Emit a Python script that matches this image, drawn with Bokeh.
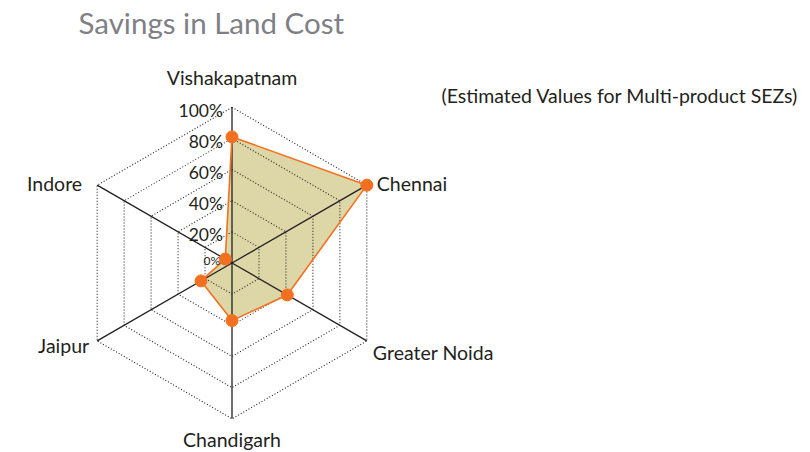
import numpy as np
from bokeh.plotting import figure
from bokeh.models import Label
from bokeh.core.properties import value
from bokeh.embed import file_html
from bokeh.resources import INLINE

# ---- data ----
cities = ["Vishakapatnam", "Chennai", "Greater Noida", "Chandigarh", "Jaipur", "Indore"]
savings = [81, 100, 41, 37, 23, 5]
tick_values = [0, 20, 40, 60, 80, 100]
tick_labels = ["0%", "20%", "40%", "60%", "80%", "100%"]
title_text = "Savings in Land Cost"
subtitle_text = "(Estimated Values for Multi-product SEZs)"

# ---- layout ----
W, H = 808, 450
S = 155.7              # pixels per 100%
cx, cy = 231.5, 262.5  # centre in canvas px (from left, from top)
FONT = "Lato"
DARK = "#231f20"

n = len(cities)
angles = np.pi / 2 - np.arange(n) * 2 * np.pi / n

p = figure(width=W, height=H, output_backend="svg", toolbar_location=None,
           x_range=(-cx / S, (W - cx) / S), y_range=(-(H - cy) / S, cy / S),
           min_border=0, outline_line_color=None)
p.axis.visible = False
p.grid.visible = False
p.background_fill_color = "white"
p.border_fill_color = "white"

# data polygon
r = np.array(savings) / 100.0
px = r * np.cos(angles)
py = r * np.sin(angles)
p.patch(list(px), list(py), fill_color="#ddd7a7", line_color=None)

# grid rings
for tv in tick_values[1:]:
    rr = tv / 100.0
    gx = list(rr * np.cos(angles)) + [rr * np.cos(angles[0])]
    gy = list(rr * np.sin(angles)) + [rr * np.sin(angles[0])]
    p.line(gx, gy, line_color="#222222", line_width=1.1, line_dash="1 2")

# spokes
for a in angles:
    p.line([0, np.cos(a)], [0, np.sin(a)], line_color=DARK, line_width=1.3)

# outline + markers
p.line(list(px) + [px[0]], list(py) + [py[0]], line_color="#f37021", line_width=1.6)
p.scatter(px, py, size=12, fill_color="#f37021", line_color="#f37021")

# radial tick labels
for tv, tl in zip(tick_values, tick_labels):
    small = tv == 0
    p.text([0], [tv / 100.0], text=[tl], text_align="right", text_baseline="middle",
           x_offset=-9 if not small else -12, y_offset=3 if not small else -3,
           text_font=value(FONT), text_font_size="12px" if small else "17.5px",
           text_color=DARK)

# category labels
specs = {
    0: dict(align="center", base="bottom", dx=0, dy=-18),
    1: dict(align="left", base="middle", dx=10, dy=-2),
    2: dict(align="left", base="middle", dx=6, dy=12),
    3: dict(align="center", base="top", dx=0, dy=9),
    4: dict(align="right", base="middle", dx=-8, dy=5),
    5: dict(align="right", base="middle", dx=-15, dy=-2),
}
for i, c in enumerate(cities):
    sp = specs[i]
    p.text([np.cos(angles[i])], [np.sin(angles[i])], text=[c], text_align=sp["align"],
           text_baseline=sp["base"], x_offset=sp["dx"], y_offset=sp["dy"],
           text_font=value(FONT), text_font_size="19.5px", text_color=DARK)

p.add_layout(Label(x=78, y=H - 22, x_units="screen", y_units="screen", text=title_text,
                   text_font=FONT, text_font_size="29.5px", text_color="#7f7f86",
                   text_baseline="middle"))
p.add_layout(Label(x=441, y=H - 95, x_units="screen", y_units="screen", text=subtitle_text,
                   text_font=FONT, text_font_size="19.5px", text_color=DARK,
                   text_baseline="middle"))

open("out.html", "w").write(file_html(p, INLINE))
